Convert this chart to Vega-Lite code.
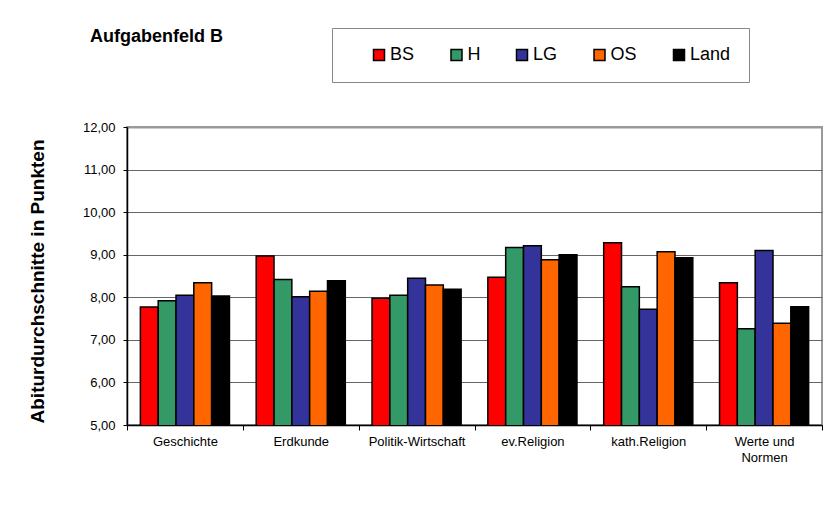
{
  "$schema": "https://vega.github.io/schema/vega-lite/v6.json",
  "width": 695,
  "height": 298,
  "autosize": {"type": "none"},
  "padding": {"left": 127, "top": 127, "right": 2, "bottom": 82},
  "background": "white",
  "title": {
    "text": "Aufgabenfeld B",
    "anchor": "start",
    "frame": "group",
    "dx": -37,
    "dy": 118,
    "offset": 86,
    "baseline": "alphabetic",
    "font": "Liberation Sans",
    "fontSize": 18,
    "fontWeight": "bold",
    "color": "black"
  },
  "data": {
    "values": [
      {"fach": "Geschichte", "gruppe": "BS", "wert": 7.77},
      {"fach": "Geschichte", "gruppe": "H", "wert": 7.92},
      {"fach": "Geschichte", "gruppe": "LG", "wert": 8.05},
      {"fach": "Geschichte", "gruppe": "OS", "wert": 8.34},
      {"fach": "Geschichte", "gruppe": "Land", "wert": 8.03},
      {"fach": "Erdkunde", "gruppe": "BS", "wert": 8.97},
      {"fach": "Erdkunde", "gruppe": "H", "wert": 8.42},
      {"fach": "Erdkunde", "gruppe": "LG", "wert": 8.01},
      {"fach": "Erdkunde", "gruppe": "OS", "wert": 8.14},
      {"fach": "Erdkunde", "gruppe": "Land", "wert": 8.39},
      {"fach": "Politik-Wirtschaft", "gruppe": "BS", "wert": 7.98},
      {"fach": "Politik-Wirtschaft", "gruppe": "H", "wert": 8.05},
      {"fach": "Politik-Wirtschaft", "gruppe": "LG", "wert": 8.45},
      {"fach": "Politik-Wirtschaft", "gruppe": "OS", "wert": 8.29},
      {"fach": "Politik-Wirtschaft", "gruppe": "Land", "wert": 8.19},
      {"fach": "ev.Religion", "gruppe": "BS", "wert": 8.47},
      {"fach": "ev.Religion", "gruppe": "H", "wert": 9.17},
      {"fach": "ev.Religion", "gruppe": "LG", "wert": 9.21},
      {"fach": "ev.Religion", "gruppe": "OS", "wert": 8.88},
      {"fach": "ev.Religion", "gruppe": "Land", "wert": 9.0},
      {"fach": "kath.Religion", "gruppe": "BS", "wert": 9.28},
      {"fach": "kath.Religion", "gruppe": "H", "wert": 8.25},
      {"fach": "kath.Religion", "gruppe": "LG", "wert": 7.72},
      {"fach": "kath.Religion", "gruppe": "OS", "wert": 9.07},
      {"fach": "kath.Religion", "gruppe": "Land", "wert": 8.93},
      {"fach": "Werte und Normen", "gruppe": "BS", "wert": 8.34},
      {"fach": "Werte und Normen", "gruppe": "H", "wert": 7.26},
      {"fach": "Werte und Normen", "gruppe": "LG", "wert": 9.1},
      {"fach": "Werte und Normen", "gruppe": "OS", "wert": 7.39},
      {"fach": "Werte und Normen", "gruppe": "Land", "wert": 7.78}
    ]
  },
  "mark": {"type": "bar", "stroke": "black", "strokeWidth": 1.5, "clip": true},
  "encoding": {
    "x": {
      "field": "fach",
      "type": "nominal",
      "sort": null,
      "scale": {"paddingInner": 0, "paddingOuter": 0},
      "axis": {
        "title": null,
        "labelAngle": 0,
        "labelFont": "Liberation Sans",
        "labelFontSize": 13,
        "labelColor": "black",
        "labelPadding": 5,
        "labelLineHeight": 16,
        "labelOverlap": false,
        "labelExpr": "datum.label == 'Werte und Normen' ? ['Werte und', 'Normen'] : datum.label",
        "tickBand": "extent",
        "tickSize": 5,
        "tickColor": "black",
        "domainColor": "black",
        "domainWidth": 1.5
      }
    },
    "xOffset": {
      "field": "gruppe",
      "type": "nominal",
      "sort": ["BS", "H", "LG", "OS", "Land"],
      "scale": {"paddingInner": 0, "paddingOuter": 0.75}
    },
    "y": {
      "field": "wert",
      "type": "quantitative",
      "scale": {"domain": [5, 12], "nice": false, "zero": false},
      "axis": {
        "title": "Abiturdurchschnitte in Punkten",
        "titleFont": "Liberation Sans",
        "titleFontSize": 19,
        "titleFontWeight": "bold",
        "titleColor": "black",
        "titleX": -84,
        "titleY": 154,
        "titleBaseline": "alphabetic",
        "titleAlign": "center",
        "values": [5, 6, 7, 8, 9, 10, 11, 12],
        "labelExpr": "replace(format(datum.value, '.2f'), '.', ',')",
        "labelFont": "Liberation Sans",
        "labelFontSize": 13,
        "labelColor": "black",
        "labelPadding": 8,
        "tickSize": 4,
        "tickColor": "black",
        "domainColor": "black",
        "domainWidth": 1.5,
        "grid": true,
        "gridColor": {"condition": {"test": "datum.value == 12", "value": "#999999"}, "value": "#666666"},
        "gridWidth": {"condition": {"test": "datum.value == 12", "value": 2}, "value": 1}
      }
    },
    "color": {
      "field": "gruppe",
      "type": "nominal",
      "sort": ["BS", "H", "LG", "OS", "Land"],
      "scale": {
        "domain": ["BS", "H", "LG", "OS", "Land"],
        "range": ["#FF0000", "#339966", "#333399", "#FF6600", "#000000"]
      },
      "legend": {
        "title": null,
        "orient": "none",
        "legendX": 205,
        "legendY": -99,
        "direction": "horizontal",
        "symbolType": "square",
        "symbolSize": 121,
        "symbolStrokeColor": "black",
        "symbolStrokeWidth": 1.5,
        "symbolOffset": 20,
        "labelFont": "Liberation Sans",
        "labelFontSize": 18,
        "labelColor": "black",
        "labelOffset": 2,
        "columnPadding": 12.5,
        "padding": 18,
        "strokeColor": "#888888",
        "fillColor": "white",
        "labelExpr": "datum.label == 'Land' ? 'Land\u00a0\u00a0\u00a0\u00a0' : datum.label"
      }
    }
  },
  "config": {
    "view": {"stroke": "#999999", "strokeWidth": 2},
    "axis": {"labelFont": "Liberation Sans"}
  }
}
